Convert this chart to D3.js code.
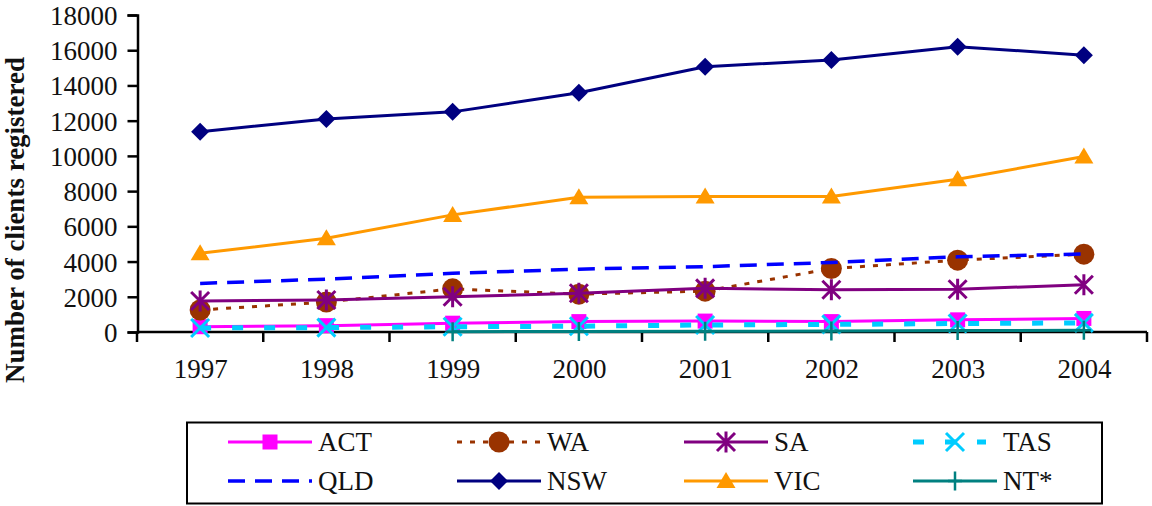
<!DOCTYPE html>
<html>
<head>
<meta charset="utf-8">
<script src="https://cdn.jsdelivr.net/npm/d3@7"></script>
<style>
  html, body { margin: 0; padding: 0; background: #fff; }
  svg { display: block; }
  svg text { font-family: "Liberation Serif", "DejaVu Serif", "Noto Serif", "Times New Roman", serif; }
</style>
</head>
<body>
<svg id="chart" width="1152" height="506"></svg>
<script>
// ---- data ----
const years = ["1997", "1998", "1999", "2000", "2001", "2002", "2003", "2004"];
const yTicks = [0, 2000, 4000, 6000, 8000, 10000, 12000, 14000, 16000, 18000];
const act = [300, 360, 500, 590, 620, 590, 690, 770];
const wa  = [1250, 1700, 2450, 2150, 2320, 3600, 4080, 4420];
const sa  = [1760, 1820, 2000, 2200, 2480, 2400, 2430, 2680];
const tas = [230, 250, 300, 330, 400, 430, 480, 520];
const qld = [2760, 3000, 3330, 3570, 3710, 3950, 4270, 4430];
const nsw = [11370, 12100, 12500, 13580, 15060, 15450, 16200, 15720];
const vic = [4470, 5320, 6650, 7650, 7690, 7690, 8670, 9960];
const nt  = [null, null, 20, 30, 40, 50, 80, 100];
const seriesNames = ["ACT", "WA", "SA", "TAS", "QLD", "NSW", "VIC", "NT*"];

// ---- styles ----
const styles = {
  "ACT": { color: "#FF00FF", width: 3, dash: null, marker: "square" },
  "WA":  { color: "#993300", width: 3, dash: "5 8", marker: "circle" },
  "SA":  { color: "#800080", width: 3, dash: null, marker: "asterisk" },
  "TAS": { color: "#00CCFF", width: 5, dash: "11 21", marker: "x" },
  "QLD": { color: "#0000FF", width: 3.5, dash: "17 10", marker: null },
  "NSW": { color: "#000080", width: 3, dash: null, marker: "diamond" },
  "VIC": { color: "#FF9900", width: 3, dash: null, marker: "triangle" },
  "NT*": { color: "#008080", width: 3, dash: null, marker: "plus" }
};
const values = { "ACT": act, "WA": wa, "SA": sa, "TAS": tas, "QLD": qld, "NSW": nsw, "VIC": vic, "NT*": nt };
const FONT = "'Liberation Serif', 'DejaVu Serif', 'Noto Serif', serif";

const svg = d3.select("#chart");
const x = d3.scalePoint().domain(years).range([137, 1147]).padding(0.5);
const y = d3.scaleLinear().domain([0, 18000]).range([332, 15]);

// ---- y axis ----
const yAxis = d3.axisLeft(y).tickValues(yTicks).tickSize(10).tickPadding(10).tickFormat(d3.format("d"));
const gy = svg.append("g").attr("transform", "translate(137.5,0)").call(yAxis).attr("font-family", FONT);
gy.select(".domain").attr("stroke", "#000").attr("stroke-width", 2.5);
gy.selectAll(".tick line").attr("stroke", "#000").attr("stroke-width", 2.5);
gy.selectAll(".tick text").attr("font-size", 27).attr("fill", "#111").attr("dy", "0.35em");

// ---- x axis ----
const gx = svg.append("g").attr("transform", `translate(0,${y(0)})`);
const xAxis = d3.axisBottom(x).tickSize(0).tickPadding(27);
gx.call(xAxis).attr("font-family", FONT);
gx.select(".domain").remove();
gx.append("line").attr("x1", x.range()[0]).attr("x2", x.range()[1])
  .attr("stroke", "#000").attr("stroke-width", 2.5);
const step = x.step();
const edges = d3.range(years.length + 1).map(i => x.range()[0] + i * step);
gx.selectAll(".edge").data(edges).enter().append("line")
  .attr("x1", d => d).attr("x2", d => d).attr("y1", 0).attr("y2", 10)
  .attr("stroke", "#000").attr("stroke-width", 2.5);
gx.selectAll(".tick text").attr("font-size", 27).attr("fill", "#111");

// ---- y title ----
svg.append("text")
  .attr("transform", "translate(24,220) rotate(-90)")
  .attr("text-anchor", "middle")
  .attr("font-family", FONT)
  .attr("font-size", 27).attr("font-weight", "bold").attr("fill", "#111")
  .text("Number of clients registered");

// ---- markers ----
function drawMarker(g, type, color, cx, cy) {
  const p = d3.path();
  if (type === "square") {
    g.append("rect").attr("x", cx - 7.5).attr("y", cy - 7.5).attr("width", 15).attr("height", 15).attr("fill", color);
  } else if (type === "circle") {
    g.append("circle").attr("cx", cx).attr("cy", cy).attr("r", 10.5).attr("fill", color);
  } else if (type === "diamond") {
    p.moveTo(cx, cy - 9); p.lineTo(cx + 9, cy); p.lineTo(cx, cy + 9); p.lineTo(cx - 9, cy); p.closePath();
    g.append("path").attr("d", p.toString()).attr("fill", color);
  } else if (type === "triangle") {
    p.moveTo(cx, cy - 9); p.lineTo(cx + 9.5, cy + 7); p.lineTo(cx - 9.5, cy + 7); p.closePath();
    g.append("path").attr("d", p.toString()).attr("fill", color);
  } else if (type === "x") {
    p.moveTo(cx - 9, cy - 9); p.lineTo(cx + 9, cy + 9); p.moveTo(cx + 9, cy - 9); p.lineTo(cx - 9, cy + 9);
    g.append("path").attr("d", p.toString()).attr("stroke", color).attr("stroke-width", 3).attr("fill", "none");
  } else if (type === "asterisk") {
    p.moveTo(cx - 9, cy - 9); p.lineTo(cx + 9, cy + 9); p.moveTo(cx + 9, cy - 9); p.lineTo(cx - 9, cy + 9);
    p.moveTo(cx, cy - 10.5); p.lineTo(cx, cy + 10.5);
    g.append("path").attr("d", p.toString()).attr("stroke", color).attr("stroke-width", 3).attr("fill", "none");
  } else if (type === "plus") {
    p.moveTo(cx, cy - 9.5); p.lineTo(cx, cy + 9.5); p.moveTo(cx - 7, cy); p.lineTo(cx + 7, cy);
    g.append("path").attr("d", p.toString()).attr("stroke", color).attr("stroke-width", 2.5).attr("fill", "none");
  }
}

// ---- series ----
const line = d3.line().defined(d => d.v != null).x(d => x(d.year)).y(d => y(d.v));
seriesNames.forEach(name => {
  const st = styles[name];
  const data = years.map((yr, i) => ({ year: yr, v: values[name][i] }));
  const g = svg.append("g");
  g.append("path").datum(data).attr("d", line)
    .attr("fill", "none").attr("stroke", st.color).attr("stroke-width", st.width)
    .attr("stroke-dasharray", st.dash).attr("stroke-linejoin", "round");
  if (st.marker) {
    data.filter(d => d.v != null).forEach(d => drawMarker(g, st.marker, st.color, x(d.year), y(d.v)));
  }
});

// ---- legend ----
const lg = svg.append("g");
lg.append("rect").attr("x", 187).attr("y", 422.5).attr("width", 915).attr("height", 81)
  .attr("fill", "#fff").attr("stroke", "#000").attr("stroke-width", 2);
const colX = [228, 457, 684, 913];
const rowY = [442, 481];
seriesNames.forEach((name, i) => {
  const st = styles[name];
  const cx0 = colX[i % 4], cy = rowY[Math.floor(i / 4)];
  const g = lg.append("g");
  const len = name === "TAS" ? 73 : 84;
  g.append("line").attr("x1", cx0).attr("x2", cx0 + len).attr("y1", cy).attr("y2", cy)
    .attr("stroke", st.color).attr("stroke-width", st.width)
    .attr("stroke-dasharray", st.dash);
  if (st.marker) drawMarker(g, st.marker, st.color, cx0 + 42, cy);
  g.append("text").attr("x", cx0 + 90).attr("y", cy + 9)
    .attr("font-family", FONT)
    .attr("font-size", 27).attr("fill", "#111").text(name);
});
</script>
</body>
</html>
